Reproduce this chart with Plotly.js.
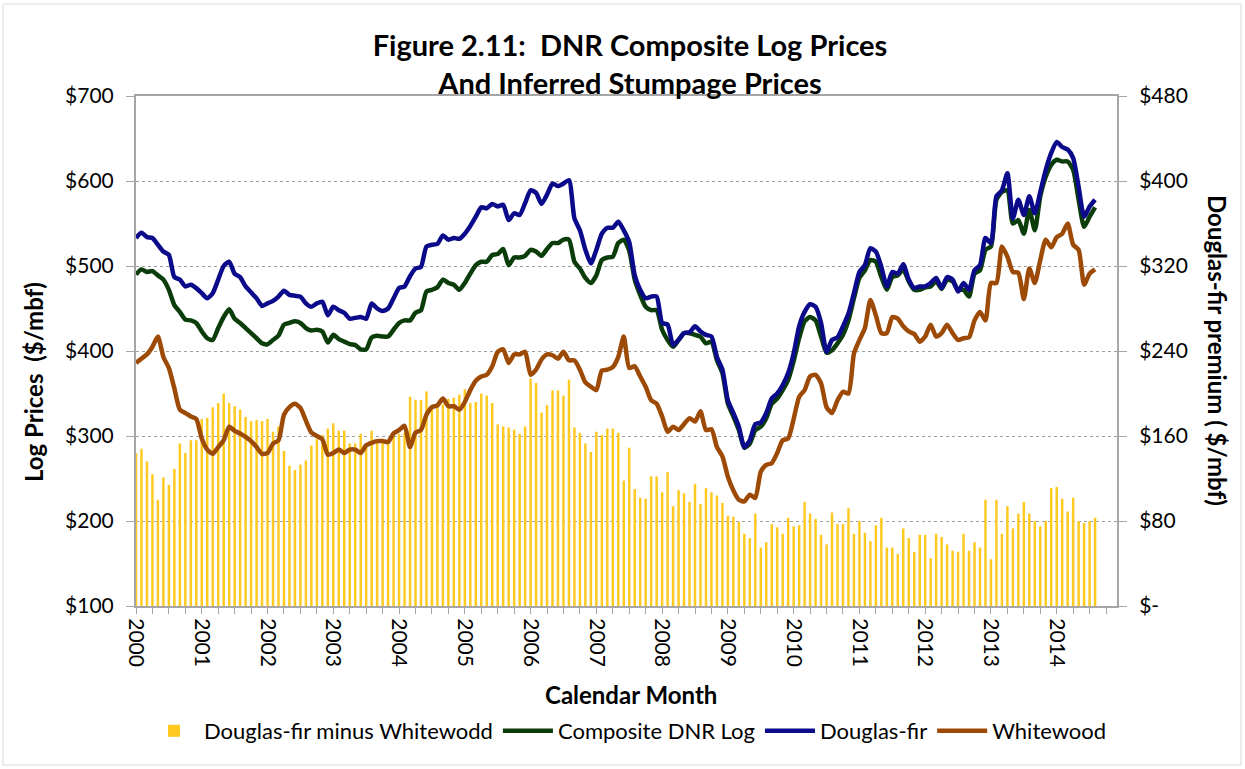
<!DOCTYPE html>
<html>
<head>
<meta charset="utf-8">
<script src="https://cdn.plot.ly/plotly-3.0.1.min.js"></script>
<style>
  html, body { margin: 0; padding: 0; background: #ffffff; }
  #chart { width: 1245px; height: 769px; }
</style>
</head>
<body>
<div id="chart"></div>
<script>
// Monthly series, January 2000 through August 2014
const startYear = 2000;
const yearLabels = ["2000","2001","2002","2003","2004","2005","2006","2007","2008","2009","2010","2011","2012","2013","2014"];

// Douglas-fir minus Whitewood premium ($/mbf, right axis)
const premium = [
  144,148,136,124,100,121,114,129,153,144,156,156,
  176,177,187,191,200,191,188,185,178,174,175,174,
  176,164,169,146,132,128,133,137,151,157,161,167,
  172,165,165,153,153,162,153,165,154,156,154,159,
  162,163,197,194,194,202,188,191,190,195,196,199,
  204,191,192,200,198,191,171,169,168,166,162,169,
  214,210,182,189,203,203,198,213,168,163,153,145,
  164,161,167,167,163,118,149,110,102,101,122,122,
  107,126,94,109,106,98,115,96,111,107,104,97,
  85,84,79,68,64,87,55,60,77,74,68,83,
  75,76,98,87,82,67,58,88,77,77,92,68,
  80,69,61,76,83,55,55,49,73,64,51,67,
  67,45,68,65,58,52,51,68,52,60,55,100,
  44,100,68,94,73,87,98,87,80,75,80,111,
  112,101,89,102,80,78,80,83
];

// Composite DNR Log ($/mbf, left axis)
const composite = [
  490,496,493,494,489,484,472,454,446,437,436,433,
  423,415,413,427,440,449,438,433,427,421,415,409,
  408,413,418,431,433,435,433,427,424,425,423,410,
  419,414,411,408,407,402,402,416,418,417,417,425,
  433,436,436,445,448,470,472,475,484,480,478,472,
  480,491,501,505,505,513,514,520,501,510,510,512,
  519,517,512,520,527,527,531,531,505,497,486,480,
  489,507,510,511,527,531,518,484,466,452,448,448,
  425,413,405,413,421,421,419,417,409,411,389,374,
  338,323,307,286,291,307,311,321,338,344,354,366,
  388,415,435,440,436,417,398,401,409,419,436,462,
  486,495,507,505,487,472,487,489,496,482,472,472,
  475,476,482,473,484,482,472,472,464,491,495,519,
  523,578,587,589,550,554,538,566,542,582,605,619,
  625,623,623,613,578,546,558,569
];

// Douglas-fir ($/mbf, left axis)
const douglasFir = [
  533,539,534,533,525,517,513,487,484,476,478,474,
  468,462,468,484,500,505,491,487,476,469,462,453,
  456,459,464,471,466,465,464,456,452,456,458,442,
  452,448,445,438,439,440,438,456,450,447,450,462,
  474,476,488,497,499,523,525,526,536,531,533,532,
  538,547,558,569,568,573,570,572,554,562,560,574,
  589,586,573,584,597,594,597,601,556,542,519,503,
  519,538,545,545,552,542,528,489,472,462,464,464,
  433,431,407,413,421,422,429,423,419,417,393,378,
  342,327,311,287,295,314,316,327,344,350,360,374,
  397,429,446,455,452,433,399,413,416,429,444,468,
  493,501,521,517,499,476,493,491,502,484,474,476,
  476,480,486,474,487,484,470,480,472,495,501,533,
  527,582,589,609,556,578,560,582,562,587,613,633,
  646,640,637,627,593,558,570,578
];

// Whitewood ($/mbf, left axis)
const whitewood = [
  386,391,396,405,417,393,380,356,331,327,323,320,
  297,284,279,287,295,311,306,303,299,294,287,279,
  280,291,295,325,334,338,333,318,304,300,296,278,
  280,284,280,284,284,280,289,292,294,294,293,303,
  307,312,287,304,307,325,334,336,344,335,335,331,
  340,354,365,370,372,382,399,402,386,396,396,399,
  372,378,390,396,395,391,399,389,389,378,363,358,
  354,377,378,381,393,417,380,382,370,358,342,338,
  323,305,311,307,314,321,317,329,307,308,287,276,
  252,236,225,223,231,227,258,266,268,280,295,297,
  320,346,354,370,372,362,334,327,342,352,350,397,
  413,427,460,442,421,421,440,438,429,423,420,411,
  417,431,417,421,431,421,413,415,416,436,446,436,
  480,480,523,511,493,492,461,497,480,507,531,522,
  534,538,550,525,519,478,491,496
];

const monthIndex = premium.map((_, i) => i);
const monthLabel = premium.map((_, i) => {
  const y = startYear + Math.floor(i / 12);
  const m = (i % 12) + 1;
  return y + "-" + (m < 10 ? "0" + m : m);
});

// quarterly tick marks, year labels on January
const tickVals = [];
const tickText = [];
for (let q = 0; q <= 180; q += 3) {
  tickVals.push(q);
  tickText.push(q % 12 === 0 && (q / 12) < yearLabels.length ? yearLabels[q / 12] : "");
}

const rightVals = [0, 80, 160, 240, 320, 400, 480];
const rightText = rightVals.map(v => v === 0 ? "$-" : "$" + v);

const FONT = "Lato, 'Open Sans', sans-serif";
const AXIS_GRAY = "#a6a6a6";
const LW = 4.5;

const traces = [
  {
    type: "bar", name: "Douglas-fir minus Whitewodd",
    x: monthIndex, y: premium, text: monthLabel, hoverinfo: "text+y",
    yaxis: "y", marker: { color: "#ffc920", line: { width: 0 } }
  },
  {
    type: "scatter", mode: "lines", name: "Composite DNR Log",
    x: monthIndex, y: composite, text: monthLabel, yaxis: "y2",
    line: { color: "#0b3d0b", width: LW, shape: "spline", smoothing: 0.6 }
  },
  {
    type: "scatter", mode: "lines", name: "Douglas-fir",
    x: monthIndex, y: douglasFir, text: monthLabel, yaxis: "y2",
    line: { color: "#0a0a8a", width: LW, shape: "spline", smoothing: 0.6 }
  },
  {
    type: "scatter", mode: "lines", name: "Whitewood",
    x: monthIndex, y: whitewood, text: monthLabel, yaxis: "y2",
    line: { color: "#9c4a06", width: LW, shape: "spline", smoothing: 0.6 }
  }
];

const L = 136, R = 128, T = 96, B = 163;
const PW = 1245 - L - R, PH = 769 - T - B;
const px = x => (x - L) / PW;
const py = y => (769 - B - y) / PH;

const layout = {
  width: 1245, height: 769,
  margin: { l: L, r: R, t: T, b: B, pad: 0, autoexpand: false },
  paper_bgcolor: "#ffffff", plot_bgcolor: "#ffffff",
  font: { family: FONT, size: 21, color: "#000000" },
  showlegend: true,
  bargap: 0.55,
  title: {
    text: "<b>Figure 2.11:  DNR Composite Log Prices<br>And Inferred Stumpage Prices</b>",
    font: { family: FONT, size: 29, color: "#000000" },
    x: 630 / 1245, xanchor: "center", xref: "container",
    y: 1 - 56 / 769, yanchor: "middle", yref: "container"
  },
  xaxis: {
    type: "linear", range: [0, 179], automargin: false,
    tickmode: "array", tickvals: tickVals, ticktext: tickText,
    tickangle: 90, ticks: "outside", ticklen: 6, tickcolor: AXIS_GRAY, tickwidth: 1,
    showline: true, linecolor: AXIS_GRAY, linewidth: 2, mirror: true,
    showgrid: false, zeroline: false,
    tickfont: { family: FONT, size: 21 }
  },
  yaxis: {
    side: "right", range: [0, 480], automargin: false,
    tickmode: "array", tickvals: rightVals, ticktext: rightText,
    ticks: "outside", ticklen: 8, tickcolor: AXIS_GRAY, ticklabelstandoff: 8,
    showline: true, linecolor: AXIS_GRAY, linewidth: 2,
    showgrid: true, gridcolor: "#a0a0a0", griddash: "dot", gridwidth: 1,
    zeroline: false, tickfont: { family: FONT, size: 21 }
  },
  yaxis2: {
    overlaying: "y", side: "left", range: [100, 700], automargin: false,
    tickmode: "linear", tick0: 100, dtick: 100, tickprefix: "$",
    ticks: "outside", ticklen: 8, tickcolor: AXIS_GRAY, ticklabelstandoff: 8,
    showline: true, linecolor: AXIS_GRAY, linewidth: 2,
    showgrid: false, zeroline: false, tickfont: { family: FONT, size: 21 }
  },
  legend: {
    orientation: "h", xref: "container", yref: "container",
    x: 628 / 1245, xanchor: "center", y: 1 - 731 / 769, yanchor: "middle",
    font: { family: FONT, size: 22 }, itemwidth: 50, tracegroupgap: 0,
    bgcolor: "rgba(0,0,0,0)"
  },
  annotations: [
    {
      text: "<b>Log Prices  ($/mbf)</b>", xref: "paper", yref: "paper",
      x: px(33), y: py(382), textangle: -90, showarrow: false,
      font: { family: FONT, size: 24 }, xanchor: "center", yanchor: "middle"
    },
    {
      text: "<b>Douglas-fir premium ( $/mbf)</b>", xref: "paper", yref: "paper",
      x: px(1218), y: py(350), textangle: 90, showarrow: false,
      font: { family: FONT, size: 24 }, xanchor: "center", yanchor: "middle"
    },
    {
      text: "<b>Calendar Month</b>", xref: "paper", yref: "paper",
      x: px(631), y: py(694), showarrow: false,
      font: { family: FONT, size: 24 }, xanchor: "center", yanchor: "middle"
    }
  ],
  shapes: [
    {
      type: "rect", xref: "paper", yref: "paper",
      x0: px(3), x1: px(1241), y0: py(765), y1: py(4),
      line: { color: "#d9d9d9", width: 1 }, layer: "below"
    }
  ]
};

Plotly.newPlot("chart", traces, layout, { displayModeBar: false, staticPlot: true });
</script>
</body>
</html>
